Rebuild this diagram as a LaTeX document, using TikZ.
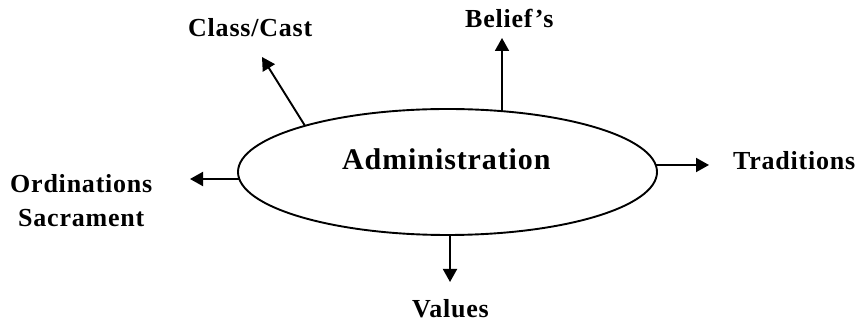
\documentclass[tikz,border=0pt]{standalone}
\usepackage{fontspec}
\setmainfont{Liberation Serif}[LetterSpace=3]
\usetikzlibrary{shapes.geometric,arrows.meta,calc}
\tikzset{
  lbl/.style={font=\fontsize{26}{34}\selectfont\bfseries, inner sep=0pt, anchor=base west},
  conn/.style={line width=1.9pt, -{Triangle[length=13pt,width=14pt]}},
  hub/.style={ellipse, draw, line width=1.9pt, minimum width=419pt, minimum height=126pt, inner sep=0pt}
}
\begin{document}
\begin{tikzpicture}[x=1pt,y=1pt]
\useasboundingbox (0,0) rectangle (859,323);
\node[hub] (adm) at (447.5,151) {};
\node[font=\fontsize{30}{36}\selectfont\bfseries, inner sep=0pt, anchor=base west] (admt) at (342,153) {Administration};
\node[lbl] (cls) at (188,286) {Class/Cast};
\node[lbl] (bel) at (465,295) {Belief’s};
\node[lbl] (ord) at (10,130) {Ordinations};
\node[lbl] (sac) at (18,96) {Sacrament};
\node[lbl] (tra) at (733,153) {Traditions};
\node[lbl] (val) at (412,5) {Values};
% start points on the ellipse border
\coordinate (clsS) at ($(adm.center)+(-142.5,46.2)$);
\coordinate (belS) at ($(adm.center)+(54.5,60.8)$);
\coordinate (ordS) at ($(adm.center)+(-208.2,-7)$);
\coordinate (traS) at ($(adm.center)+(208.2,7)$);
\coordinate (valS) at ($(adm.center)+(2.5,-63)$);
% arrow ends
\coordinate (clsE) at (262,266);
\coordinate (belE) at (502,285);
\coordinate (ordE) at (190,144);
\coordinate (traE) at (709,158);
\coordinate (valE) at (450,41);
\draw[conn] (clsS) -- (clsE);
\draw[conn] (belS) -- (belE);
\draw[conn] (ordS) -- (ordE);
\draw[conn] (traS) -- (traE);
\draw[conn] (valS) -- (valE);
\end{tikzpicture}
\end{document}
